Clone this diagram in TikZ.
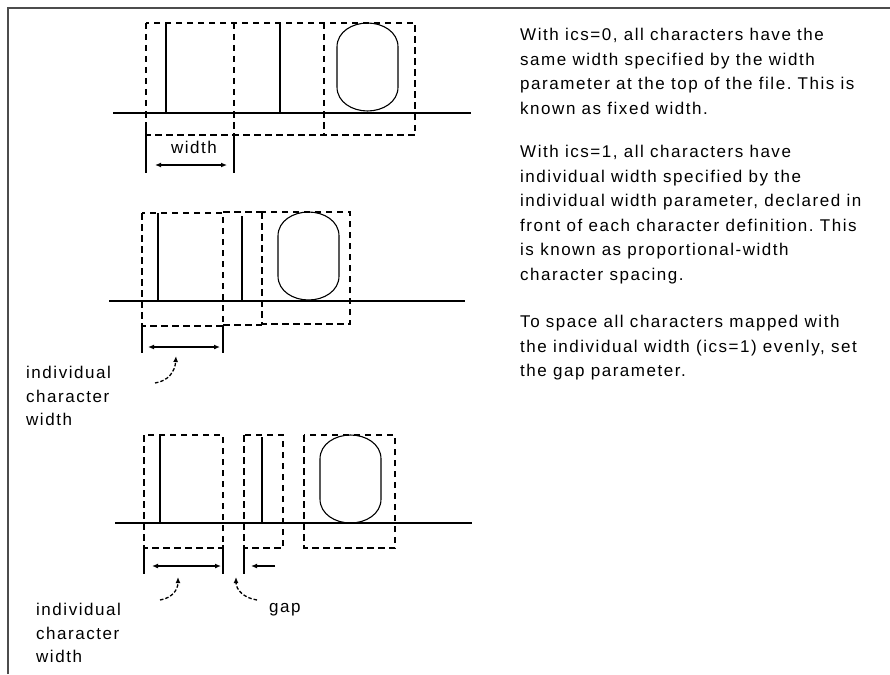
\documentclass[tikz,border=0pt]{standalone}
\usepackage{fontspec}
\setmainfont{Liberation Sans}
\newfontfamily\figfont[LetterSpace=9]{Liberation Sans}
\usetikzlibrary{arrows.meta}
\frenchspacing

\begin{document}
\begin{tikzpicture}[
  x=1pt, y=-1pt,
  border/.style={draw=black!70, line width=2.2pt},
  charbox/.style={
    draw=black,
    dash pattern=on 6.5pt off 4.5pt,
    line width=1.3pt
  },
  glyph/.style={draw=black, line width=1.3pt},
  ring/.style={draw=black, line width=1.1pt},
  letter o/.pic={
    \draw[ring] (30.5,0) to[out=0,in=90] (61,24) -- (61,64)
      to[out=-90,in=0] (30.5,88) to[out=180,in=-90] (0,64)
      -- (0,24) to[out=90,in=180] cycle;
  },
  rule/.style={draw=black, line width=1.3pt},
  dimline/.style={draw=black, line width=1.3pt},
  dimarrow/.style={{Latex[length=6pt,width=5pt]}-{Latex[length=6pt,width=5pt]}, line width=1.3pt},
  gaparrow/.style={-{Latex[length=6pt,width=5pt]}, line width=1.3pt},
  pointer/.style={-{Latex[length=6pt,width=5pt]}, line width=1.3pt, dash pattern=on 3.5pt off 2pt},
  note/.style={
    font=\figfont\fontsize{17}{24.5}\selectfont,
    align=left,
    anchor=north west,
    inner sep=0pt
  },
  tagtext/.style={
    font=\figfont\fontsize{17}{23.5}\selectfont,
    align=left,
    anchor=north west,
    inner sep=0pt
  }
]
\useasboundingbox (0,0) rectangle (890,674);
\draw[border] (8,674) -- (8,8) -- (890,8);

% fixed width
\draw[rule] (113,113) -- (471,113);
\draw[charbox] (146,23) rectangle (415,135);
\draw[charbox] (234,23) -- (234,135);
\draw[charbox] (324,23) -- (324,135);
\draw[glyph] (166,24) -- (166,113);
\draw[glyph] (280,24) -- (280,113);
\pic (fixedo) at (337,23) {letter o};
\draw[dimline] (146,126) -- (146,173);
\draw[dimline] (234,133) -- (234,173);
\node[inner sep=0pt, font=\figfont\fontsize{17}{20}\selectfont] (fixedw) at (194,147) {width};
\coordinate (fwl) at (155,165);
\coordinate (fwr) at (227,165);
\draw[dimarrow] (fwl) -- (fwr);

% proportional width
\draw[rule] (109,301) -- (465,301);
\draw[charbox] (142,213) rectangle (223,326);
\draw[charbox] (223,212) -- (262,212);
\draw[charbox] (223,325) -- (262,325);
\draw[charbox] (262,212) rectangle (350,324);
\draw[glyph] (158,213) -- (158,301);
\draw[glyph] (242,216) -- (242,301);
\pic (propo) at (278,212) {letter o};
\draw[dimline] (142,325) -- (142,353);
\draw[dimline] (223,325) -- (223,353);
\coordinate (pwl) at (148,347);
\coordinate (pwr) at (220,347);
\draw[dimarrow] (pwl) -- (pwr);
\node[tagtext] (propw) at (26,366) {individual\\character\\width};
\coordinate (propfrom) at (155,383);
\coordinate (propto) at (176,356);
\draw[pointer] (propfrom) .. controls (168,381) and (175,372) .. (propto);

% gap
\draw[rule] (115,523) -- (472,523);
\draw[charbox] (144,435) rectangle (223,548);
\draw[charbox] (244,435) rectangle (283,548);
\draw[charbox] (304,435) rectangle (395,548);
\draw[glyph] (160,435) -- (160,523);
\draw[glyph] (262,437) -- (262,523);
\pic (gapo) at (320,435) {letter o};
\draw[dimline] (144,545) -- (144,574);
\draw[dimline] (223,545) -- (223,574);
\draw[dimline] (244,545) -- (244,574);
\coordinate (gwl) at (152,566);
\coordinate (gwr) at (221,566);
\draw[dimarrow] (gwl) -- (gwr);
\coordinate (gapfrom) at (275,566);
\coordinate (gapto) at (251,566);
\draw[gaparrow] (gapfrom) -- (gapto);
\node[tagtext] (gapw) at (36,603) {individual\\character\\width};
\node[tagtext] (gaplabel) at (269,603) {gap};
\coordinate (gwfrom) at (160,600);
\coordinate (gwto) at (178,577);
\draw[pointer] (gwfrom) .. controls (172,598) and (178,590) .. (gwto);
\coordinate (gapptfrom) at (257,600);
\coordinate (gapptto) at (236,577);
\draw[pointer] (gapptfrom) .. controls (244,598) and (236,590) .. (gapptto);

\node[note] (ics0) at (520,28) {With ics=0, all characters have the\\same width specified by the width\\parameter at the top of the file. This is\\known as fixed width.};
\node[note] (ics1) at (520,145) {With ics=1, all characters have\\individual width specified by the\\individual width parameter, declared in\\front of each character definition. This\\is known as proportional-width\\character spacing.};
\node[note] (gapnote) at (520,315) {To space all characters mapped with\\the individual width (ics=1) evenly, set\\the gap parameter.};

\end{tikzpicture}
\end{document}
